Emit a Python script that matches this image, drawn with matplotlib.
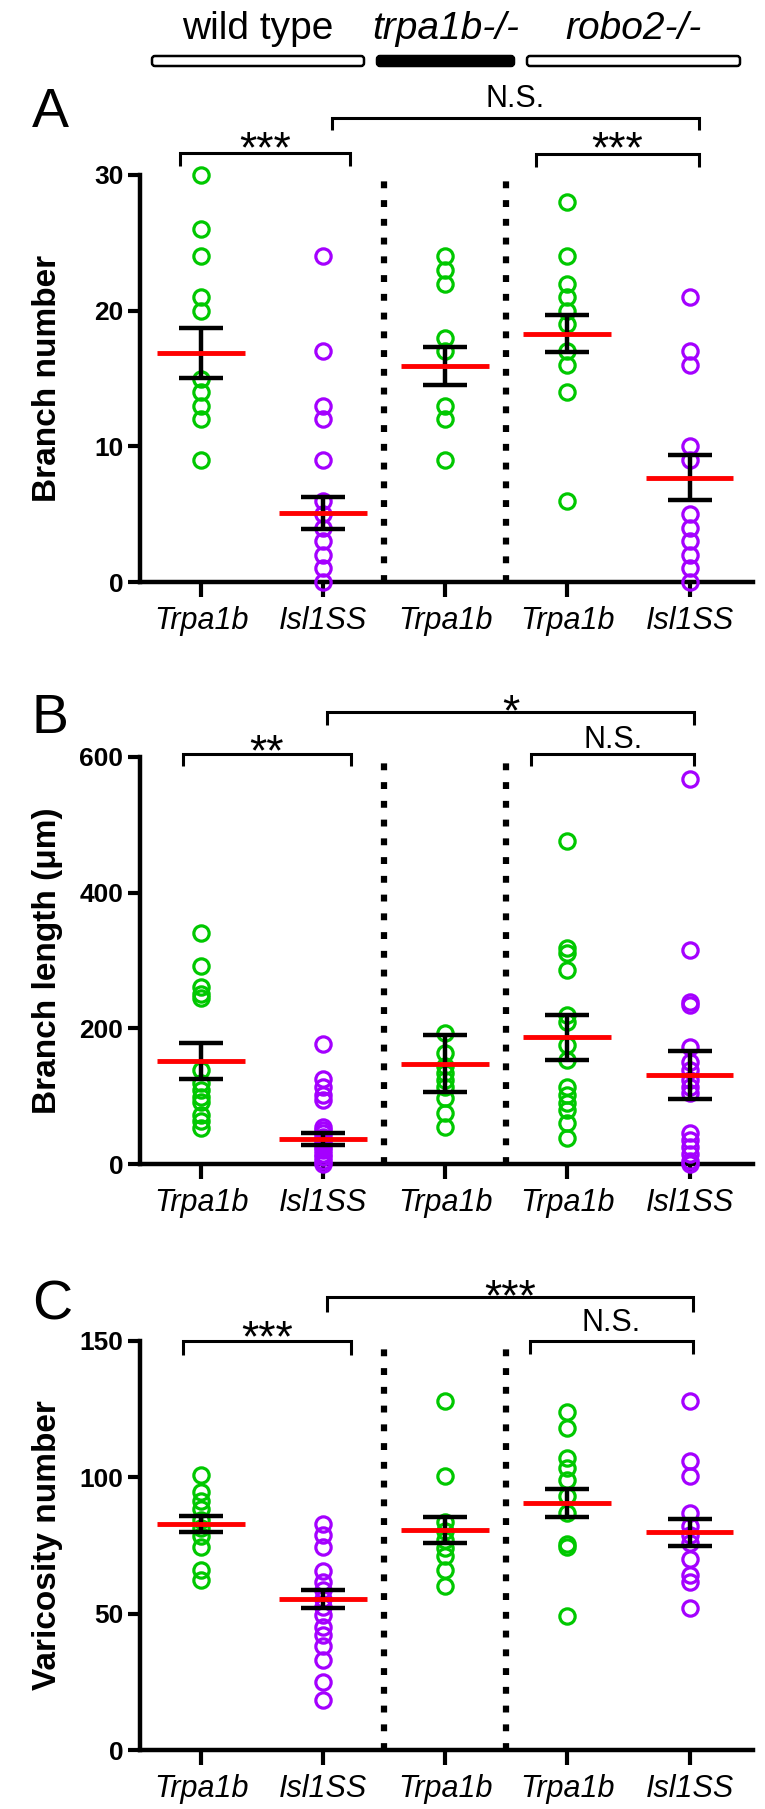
import matplotlib
matplotlib.use('Agg')
import matplotlib.pyplot as plt
from matplotlib.patches import FancyBboxPatch

plt.rcParams['font.family'] = ['Liberation Sans', 'DejaVu Sans']

# categories
groups = ['Trpa1b', 'Isl1SS', 'Trpa1b', 'Trpa1b', 'Isl1SS']
genotypes = ['wild type', 'trpa1b-/-', 'robo2-/-']
xpos = [1, 2, 3, 4, 5]

# A: branch number
a_wt_trpa1b = [30, 26, 24, 21, 20, 15, 14, 13, 12, 9]
a_wt_isl = [24, 17, 13, 12, 9, 6, 5, 4, 3, 2, 1, 0]
a_trpa_trpa1b = [24, 23, 22, 18, 17, 13, 12, 9]
a_robo_trpa1b = [28, 24, 22, 21, 20, 19, 17, 16, 14, 6]
a_robo_isl = [21, 17, 16, 10, 9, 5, 4, 3, 2, 1, 0]
a_mean = [16.9, 5.1, 15.9, 18.3, 7.7]
a_sem = [1.85, 1.2, 1.4, 1.35, 1.65]

# B: branch length (um)
b_wt_trpa1b = [340, 292, 261, 251, 244, 139, 119, 109, 99, 92, 72, 63, 53]
b_wt_isl = [177, 125, 114, 102, 95, 55, 50, 45, 40, 35, 30, 25, 20, 15, 10, 5, 0]
b_trpa_trpa1b = [193, 163, 144, 134, 124, 114, 97, 75, 54]
b_robo_trpa1b = [476, 318, 311, 286, 220, 210, 175, 153, 114, 102, 90, 80, 60, 38]
b_robo_isl = [568, 315, 239, 234, 173, 151, 139, 124, 114, 104, 45, 35, 25, 15, 5, 0]
b_mean = [152, 37, 148, 187, 131]
b_sem = [27, 9, 42, 33, 35]

# C: varicosity number
c_wt_trpa1b = [101, 94.5, 91.5, 88.5, 84.5, 81.5, 78.5, 74.5, 66, 62.5]
c_wt_isl = [83, 79, 74.5, 65.5, 61.5, 58.5, 55.5, 52.5, 49.5, 45, 42, 38, 33, 25, 18.5]
c_trpa_trpa1b = [128, 100.5, 83.5, 80.5, 77, 74, 71, 66, 60]
c_robo_trpa1b = [124, 118, 107, 103.5, 99, 93, 87, 75.5, 74.5, 49]
c_robo_isl = [128, 106, 100.5, 87, 82, 79, 76, 70, 64, 61.5, 52]
c_mean = [82.8, 55.4, 80.7, 90.6, 79.8]
c_sem = [2.9, 3.3, 4.7, 5.3, 5.0]

green = '#00c800'
purple = '#a400ff'
colors = [green, purple, green, green, purple]

W, H = 765, 1809
fig = plt.figure(figsize=(W / 100, H / 100), dpi=100)


def px_axes(l, t, r, b):
    return fig.add_axes([l / W, 1 - b / H, (r - l) / W, (b - t) / H])


def bracket(ax, x0, x1, ytop, ydrop, text, ty, size):
    ax.plot([x0, x0, x1, x1], [ydrop, ytop, ytop, ydrop], color='black', lw=2.2,
            clip_on=False, solid_joinstyle='miter', solid_capstyle='butt')
    ax.text((x0 + x1) / 2, ty, text, ha='center', va='baseline', fontsize=size)


def panel(ax, data, mean, sem, ymax, yticks, ylabel, vtop):
    for x, vals, c in zip(xpos, data, colors):
        ax.plot([x] * len(vals), vals, 'o', ms=11, mfc='none', mec=c, mew=2.3,
                clip_on=False, zorder=3)
    ax.errorbar(xpos, mean, yerr=sem, fmt='none', ecolor='black', elinewidth=3.2,
                capsize=16, capthick=3.2, zorder=4, clip_on=False)
    ax.hlines(mean, [x - 0.36 for x in xpos], [x + 0.36 for x in xpos],
              color='red', lw=3.5, zorder=5)
    ax.vlines([2.5, 3.5], 0, vtop, color='black', lw=4.5,
              linestyles=[(0, (1.1, 1.9))], zorder=2)
    ax.set_xlim(0.5, 5.52)
    ax.set_ylim(0, ymax)
    ax.set_yticks(yticks)
    ax.set_xticks(xpos)
    ax.set_xticklabels(groups, fontsize=22, style='italic')
    for t in ax.get_yticklabels():
        t.set_fontsize(19)
        t.set_fontweight('bold')
    ax.tick_params(axis='y', direction='out', length=9, width=3, pad=3)
    ax.tick_params(axis='x', direction='out', length=11, width=3, pad=6)
    for s in ['top', 'right']:
        ax.spines[s].set_visible(False)
    for s in ['left', 'bottom']:
        ax.spines[s].set_linewidth(3.2)
    ax.set_ylabel(ylabel, fontsize=24, fontweight='bold')
    ax.yaxis.set_label_coords(-0.125, 0.5)


# panel A
axA = px_axes(140, 175, 753, 582)
panel(axA, [a_wt_trpa1b, a_wt_isl, a_trpa_trpa1b, a_robo_trpa1b, a_robo_isl],
      a_mean, a_sem, 30, [0, 10, 20, 30], 'Branch number', 30.2)
bracket(axA, 0.83, 2.22, 31.6, 30.65, '***', 30.9, 32)
bracket(axA, 2.07, 5.08, 34.2, 33.3, 'N.S.', 35.0, 22)
bracket(axA, 3.74, 5.08, 31.55, 30.6, '***', 30.9, 32)

# panel B
axB = px_axes(140, 757, 753, 1164)
panel(axB, [b_wt_trpa1b, b_wt_isl, b_trpa_trpa1b, b_robo_trpa1b, b_robo_isl],
      b_mean, b_sem, 600, [0, 200, 400, 600], 'Branch length (μm)', 608)
bracket(axB, 0.85, 2.23, 605, 586, '**', 588, 32)
bracket(axB, 2.03, 5.04, 666, 647, '*', 647, 32)
bracket(axB, 3.70, 5.04, 604, 586, 'N.S.', 614, 22)

# panel C
axC = px_axes(140, 1341, 753, 1750)
panel(axC, [c_wt_trpa1b, c_wt_isl, c_trpa_trpa1b, c_robo_trpa1b, c_robo_isl],
      c_mean, c_sem, 150, [0, 50, 100, 150], 'Varicosity number', 150)
bracket(axC, 0.85, 2.23, 150, 145, '***', 146.3, 32)
bracket(axC, 2.03, 5.03, 166, 160.5, '***', 161.3, 32)
bracket(axC, 3.69, 5.03, 150, 145.4, 'N.S.', 153.8, 22)

# panel letters
for letter, base in zip(['A', 'B', 'C'], [127, 733, 1320]):
    fig.text(32 / W, 1 - base / H, letter, fontsize=40, va='baseline')

# genotype header with boxes
top = fig.add_axes([0, 0, 1, 1], zorder=-1)
top.set_xlim(0, W)
top.set_ylim(H, 0)
top.axis('off')
boxes = [(152, 364), (377, 514), (527, 740)]
fills = ['white', 'black', 'white']
styles = ['normal', 'italic', 'italic']
for (x0, x1), fc, name, st in zip(boxes, fills, genotypes, styles):
    top.add_patch(FancyBboxPatch((x0, 56), x1 - x0, 10,
                                 boxstyle='round,pad=0,rounding_size=3',
                                 fc=fc, ec='black', lw=1.8))
    top.text((x0 + x1) / 2, 39, name, ha='center', va='baseline',
             fontsize=28, style=st)

fig.savefig('out.png', dpi=100)
